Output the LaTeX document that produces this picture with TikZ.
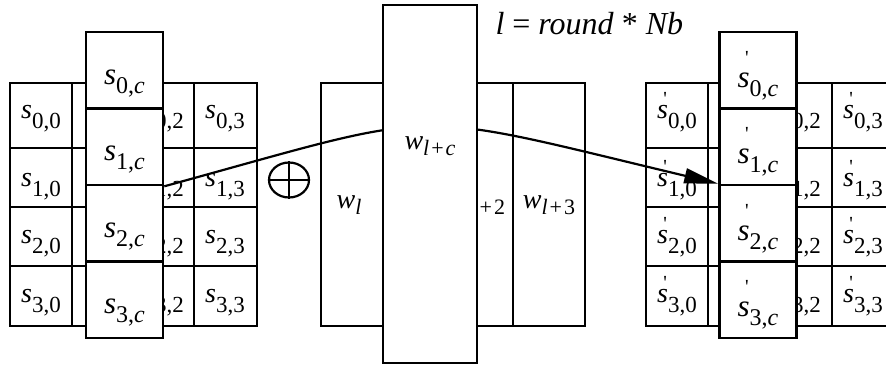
\documentclass[tikz,border=0pt]{standalone}
\usepackage{fontspec}
\setmainfont{Liberation Serif}
\newfontfamily\primefont{Liberation Serif}[Ligatures=TeXOff]
\usetikzlibrary{arrows.meta}
\usetikzlibrary{shapes.geometric}

% state entries s_{i,j}, primed ones, column entries and words
\newcommand{\primemark}[1]{\makebox[0pt][r]{\raisebox{#1}[0pt][0pt]{\fontsize{20}{20}\primefont '}\hspace{1pt}}}
\newcommand{\cellS}[2]{\textit{s}\raisebox{-10pt}{\fontsize{23}{23}\selectfont #1,#2}}
\newcommand{\cellP}[2]{\textit{s}\primemark{13pt}\raisebox{-10pt}{\fontsize{23}{23}\selectfont #1,#2}}
\newcommand{\colS}[1]{\textit{s}\raisebox{-9pt}{\fontsize{24}{24}\selectfont #1,\textit{c}}}
\newcommand{\colP}[1]{\textit{s}\primemark{23pt}\raisebox{-9pt}{\fontsize{24}{24}\selectfont #1,\textit{c}}}
\newcommand{\wS}[1]{\textit{w}\raisebox{-6pt}{\fontsize{22}{22}\selectfont #1}}
\newcommand{\lplus}[1]{\textit{l}\hspace{2pt}+\hspace{2pt}#1}

\tikzset{
  frame/.style={line width=2.6pt},
  inner/.style={line width=1.6pt},
  entry/.style={font=\fontsize{28}{30}\selectfont, inner sep=0pt},
  colbox/.style={draw, line width=2.6pt, fill=white, minimum width=77pt, minimum height=76.5pt,
                 inner sep=0pt, font=\fontsize{31}{33}\selectfont, text height=30pt, text depth=2pt},
}

\begin{document}
\begin{tikzpicture}[x=1pt, y=-1pt]
\clip (0,0) rectangle (886,366);
\fill[white] (0,0) rectangle (886,366);

% state before
\draw[frame] (10,83) rectangle (257,326);
\draw[inner] (72,83) -- (72,326) (133,83) -- (133,326) (194,83) -- (194,326);
\draw[inner] (10,148) -- (257,148) (10,207) -- (257,207) (10,266) -- (257,266);

% state after (runs past the right border)
\draw[frame] (646,83) rectangle (900,326);
\draw[inner] (708,83) -- (708,326) (770,83) -- (770,326) (832,83) -- (832,326);
\draw[inner] (646,148) -- (900,148) (646,207) -- (900,207) (646,266) -- (900,266);

% column 1 lies fully under column c
\foreach \r/\y in {0/119, 1/187, 2/244, 3/303} {
  \foreach \c/\x/\xx in {0/41/677, 2/164/801, 3/225/863} {
    \node[entry] (s\r\c) at (\x,\y) {\cellS{\r}{\c}};
    \node[entry] (t\r\c) at (\xx,\y) {\cellP{\r}{\c}};
  }
}

% round key words
\draw[frame] (321,83) rectangle (585,326);
\draw[inner] (513,83) -- (513,326);
\node[entry, anchor=base] (wl) at (349,208) {\wS{\textit{l}}};
\node[entry, anchor=base] (wl2) at (479,208) {\wS{\lplus{2}}};
\node[entry, anchor=base] (wl3) at (549,208) {\wS{\lplus{3}}};

% column c, before and after
\node[colbox] (lc0) at (124.5,70.25) {\colS{0}};
\node[colbox] (lc1) at (124.5,146.75) {\colS{1}};
\node[colbox] (lc2) at (124.5,223.25) {\colS{2}};
\node[colbox] (lc3) at (124.5,299.75) {\colS{3}};

\node[colbox, text height=34pt, text depth=0pt] (rc0) at (758,70.25) {\colP{0}};
\node[colbox, text height=34pt, text depth=0pt] (rc1) at (758,146.75) {\colP{1}};
\node[colbox, text height=34pt, text depth=0pt] (rc2) at (758,223.25) {\colP{2}};
\node[colbox, text height=34pt, text depth=0pt] (rc3) at (758,299.75) {\colP{3}};

\draw[line width=2.2pt, -{Triangle[length=34pt, width=15pt]}]
  (lc1.south east) .. controls (450,108) and (401,108) .. (rc2.north west);

% word l+c on top of the curve
\node[draw, frame, fill=white, minimum width=94pt, minimum height=358pt, inner sep=0pt] (wc) at (430,184) {};
\node[entry, anchor=base] (wlc) at (430,150) {\wS{\lplus{\textit{c}}}};

% xor sign
\node[draw, ellipse, line width=2.2pt, minimum width=40pt, minimum height=35pt, inner sep=0pt] (xor) at (289,180) {};
\draw[line width=2.2pt] (xor.north) -- (xor.south) (xor.west) -- (xor.east);

\node[anchor=base west, font=\fontsize{32}{34}\selectfont] (eq) at (492,35)
  {\textit{l} = \textit{round} * \textit{Nb}};
\end{tikzpicture}
\end{document}
